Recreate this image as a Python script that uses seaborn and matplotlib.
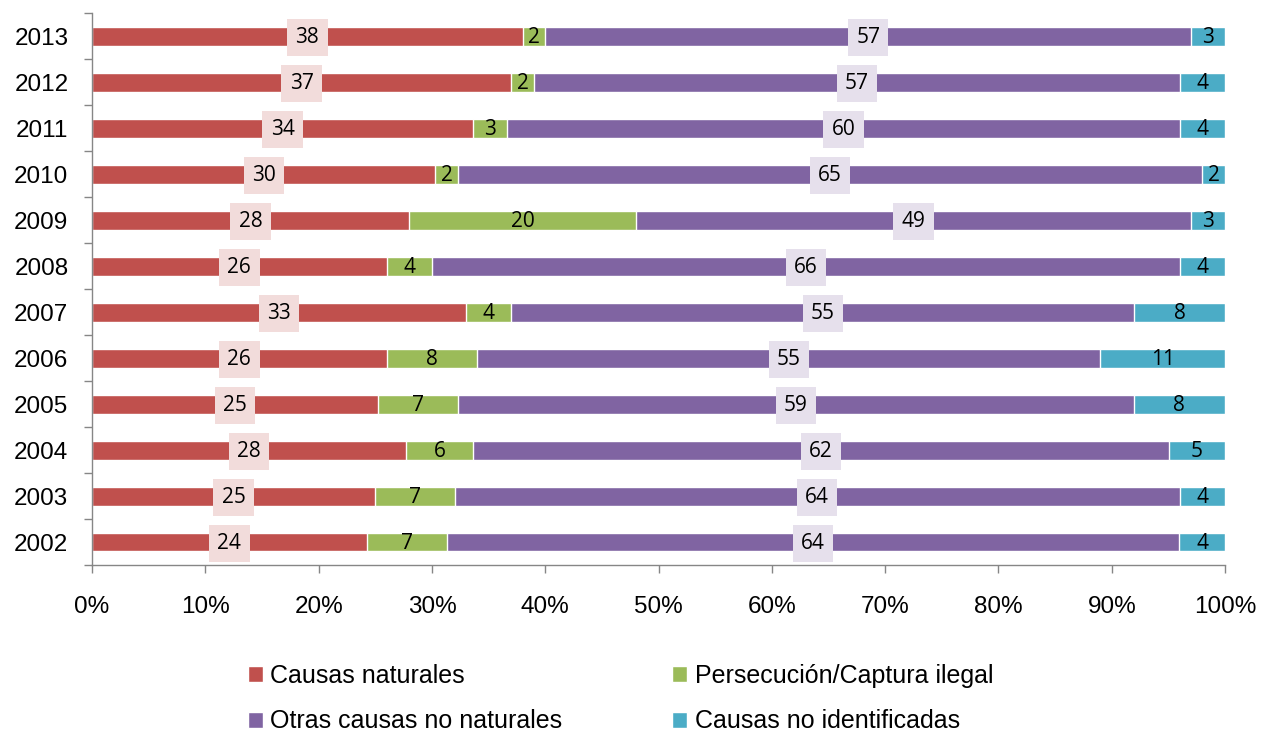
import matplotlib
matplotlib.use("Agg")
import matplotlib.pyplot as plt
import seaborn as sns
import pandas as pd
import numpy as np
from matplotlib.patches import Patch
from matplotlib.ticker import FixedLocator

# data (top row first)
years = ["2013", "2012", "2011", "2010", "2009", "2008", "2007", "2006", "2005", "2004", "2003", "2002"]
naturales = [38, 37, 34, 30, 28, 26, 33, 26, 25, 28, 25, 24]
persecucion = [2, 2, 3, 2, 20, 4, 4, 8, 7, 6, 7, 7]
otras = [57, 57, 60, 65, 49, 66, 55, 55, 59, 62, 64, 64]
no_ident = [3, 4, 4, 2, 3, 4, 8, 11, 8, 5, 4, 4]

series_names = ["Causas naturales", "Persecución/Captura ilegal",
                "Otras causas no naturales", "Causas no identificadas"]
colors = ["#C0504D", "#9BBB59", "#8064A2", "#4BACC6"]

df = pd.DataFrame({"year": years, "nat": naturales, "per": persecucion,
                   "otr": otras, "noi": no_ident})
cols = ["nat", "per", "otr", "noi"]
tot = df[cols].sum(axis=1)
pct = df[cols].div(tot, axis=0) * 100
cum = pct.cumsum(axis=1)

sns.set_style("white")
plt.rcParams["font.family"] = ["Liberation Sans", "DejaVu Sans"]

fig = plt.figure(figsize=(12.61, 7.31), dpi=100)
ax = fig.add_axes([0.073, 0.227, 0.8985, 0.755])

# stacked bars: draw cumulative totals from right-most series back
for c, col in zip(reversed(cols), reversed(colors)):
    sns.barplot(x=cum[c], y=df["year"], orient="h", color=col, width=0.41,
                saturation=1, ax=ax, order=years)

# value labels
for i in range(len(years)):
    for j, c in enumerate(cols):
        start = cum[c].iloc[i] - pct[c].iloc[i]
        mid = start + pct[c].iloc[i] / 2
        val = df[c].iloc[i]
        bbox = None
        if c == "nat":
            bbox = dict(boxstyle="square,pad=0.4", fc="#F2DCDB", ec="none")
        elif c == "otr":
            bbox = dict(boxstyle="square,pad=0.4", fc="#E6E0EC", ec="none")
        ax.text(mid, i + 0.03, str(val), ha="center", va="center", fontsize=15,
                family=["Open Sans", "DejaVu Sans"], color="black", bbox=bbox)

ax.set_xlim(0, 100)
ax.set_ylim(11.5, -0.5)
ax.set_xlabel("")
ax.set_ylabel("")
ax.set_xticks(np.arange(0, 101, 10))
ax.set_xticklabels([f"{v}%" for v in range(0, 101, 10)], fontsize=17.5)
ax.tick_params(axis="x", bottom=True, direction="out", length=6, width=1,
               color="#868686", labelcolor="black", pad=16)
ax.tick_params(axis="y", which="major", left=False, length=0, labelsize=17.5,
               labelcolor="black", pad=17)
ax.yaxis.set_minor_locator(FixedLocator(np.arange(-0.5, 12, 1)))
ax.tick_params(axis="y", which="minor", left=True, direction="out", length=6,
               width=1, color="#868686")

for s in ["top", "right"]:
    ax.spines[s].set_visible(False)
for s in ["left", "bottom"]:
    ax.spines[s].set_color("#868686")
    ax.spines[s].set_linewidth(1)

handles = [Patch(fc=colors[0]), Patch(fc=colors[2]), Patch(fc=colors[1]), Patch(fc=colors[3])]
labels = [series_names[0], series_names[2], series_names[1], series_names[3]]
leg = fig.legend(handles, labels, ncol=2, loc="center", bbox_to_anchor=(0.492, 0.044),
                 frameon=False, fontsize=18, handlelength=0.6, handleheight=0.6,
                 handletextpad=0.3, columnspacing=4.4, labelspacing=0.85)
for t in leg.get_texts():
    t.set_color("black")

fig.savefig("out.png", dpi=100)
